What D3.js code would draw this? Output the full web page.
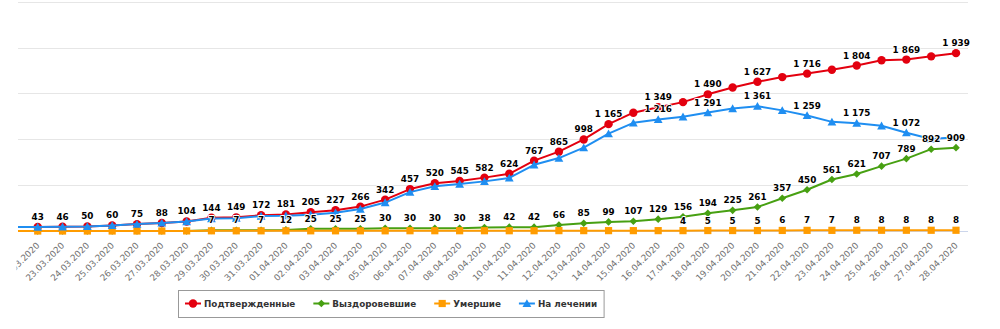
<!DOCTYPE html>
<html>
<head>
<meta charset="utf-8">
<script src="https://cdn.jsdelivr.net/npm/d3@7"></script>
<style>
  html, body { margin: 0; padding: 0; background: #fff; }
  svg { display: block; }
</style>
</head>
<body>
<svg id="chart" width="1000" height="329"></svg>
<script>
// ---------- data ----------
const dates = [
  "21.03.2020",
  "22.03.2020","23.03.2020","24.03.2020","25.03.2020","26.03.2020","27.03.2020","28.03.2020",
  "29.03.2020","30.03.2020","31.03.2020","01.04.2020","02.04.2020","03.04.2020","04.04.2020",
  "05.04.2020","06.04.2020","07.04.2020","08.04.2020","09.04.2020","10.04.2020","11.04.2020",
  "12.04.2020","13.04.2020","14.04.2020","15.04.2020","16.04.2020","17.04.2020","18.04.2020",
  "19.04.2020","20.04.2020","21.04.2020","22.04.2020","23.04.2020","24.04.2020","25.04.2020",
  "26.04.2020","27.04.2020","28.04.2020"
];
const confirmed = [43,43,46,50,60,75,88,104,144,149,172,181,205,227,266,342,457,520,545,582,624,767,865,998,1165,1290,1349,1405,1490,1565,1627,1678,1716,1758,1804,1862,1869,1904,1939];
const recovered = [0,0,0,0,0,0,0,0,7,7,7,12,25,25,25,30,30,30,30,38,42,42,66,85,99,107,129,156,194,225,261,357,450,561,621,707,789,892,909];
const deaths    = [0,0,0,0,0,0,0,1,2,2,2,2,2,2,2,2,3,3,3,3,3,3,4,4,4,4,4,4,5,5,5,6,7,7,8,8,8,8,8];
const active    = [43,43,46,50,60,75,88,103,135,140,163,167,178,200,239,310,424,487,512,541,579,722,795,909,1062,1179,1216,1245,1291,1335,1361,1315,1259,1190,1175,1147,1072,1004,1022];
const yTicks = [0,500,1000,1500,2000,2500];
const seriesNames = ["Подтвержденные","Выздоровевшие","Умершие","На лечении"];
// indices of points whose data label is shown (others hidden by overlap, as in the original)
const confirmedLabels = [1,2,3,4,5,6,7,8,9,10,11,12,13,14,15,16,17,18,19,20,21,22,23,24,26,28,30,32,34,36,38];
const recoveredLabels = [8,9,10,11,12,13,14,15,16,17,18,19,20,21,22,23,24,25,26,27,28,29,30,31,32,33,34,35,36,37,38];
const deathsLabels    = [27,28,29,30,31,32,33,34,35,36,37,38];
const activeLabels    = [26,28,30,32,34,36];

// ---------- styles ----------
const colors = ["#e3000f","#47a012","#ff9c00","#1f8ef1"];
const symbols = ["circle","diamond","square","triangle"];
const font = "'DejaVu Sans', Verdana, sans-serif";

const series = [
  {name: seriesNames[0], values: confirmed, labels: confirmedLabels},
  {name: seriesNames[1], values: recovered, labels: recoveredLabels},
  {name: seriesNames[2], values: deaths,    labels: deathsLabels},
  {name: seriesNames[3], values: active,    labels: activeLabels}
];

const svg = d3.select("#chart");
const plot = {left: 18, right: 968, top: 1.7, bottom: 231};

const x = d3.scalePoint().domain(dates).range([12.9, 956]);
const y = d3.scaleLinear().domain([0, 2500]).range([plot.bottom, plot.top]);

const defs = svg.append("defs");
defs.append("clipPath").attr("id","clip")
  .append("rect").attr("x", plot.left).attr("y", 0)
  .attr("width", plot.right - plot.left).attr("height", plot.bottom + 10);
defs.append("clipPath").attr("id","clipAxis")
  .append("rect").attr("x", 16.5).attr("y", 0).attr("width", 985).attr("height", 329);

// gridlines
svg.append("g").selectAll("line").data(yTicks).join("line")
  .attr("x1", plot.left).attr("x2", plot.right)
  .attr("y1", d => Math.round(y(d)) + 0.5).attr("y2", d => Math.round(y(d)) + 0.5)
  .attr("stroke", d => d === 0 ? "#ccd6eb" : "#e6e6e6").attr("stroke-width", 1);

// x axis labels
const xAxis = d3.axisBottom(x).tickSize(0).tickPadding(0);
const xg = svg.append("g").attr("clip-path", "url(#clipAxis)")
  .append("g").attr("transform", `translate(0,${plot.bottom})`).call(xAxis);
xg.select(".domain").remove();
xg.selectAll("text")
  .attr("font-family", font).attr("font-size", "8.8px").attr("fill", "#707070")
  .attr("text-anchor", "end")
  .attr("dy", null).attr("y", 0).attr("x", 0)
  .attr("transform", "translate(2,15) rotate(-45)");

function symbolPath(type) {
  if (type === "circle") return d3.symbol(d3.symbolCircle, Math.PI * 4.2 * 4.2)();
  if (type === "diamond") return "M0,-3.8L3.8,0L0,3.8L-3.8,0Z";
  if (type === "square") return "M-3.6,-3.6H3.6V3.6H-3.6Z";
  return "M0,-4.2L4.4,3.6L-4.4,3.6Z";
}

// lines and markers
const gSeries = svg.append("g").attr("clip-path", "url(#clip)");
series.forEach((s, si) => {
  const line = d3.line().x((d, i) => x(dates[i])).y(d => y(d));
  gSeries.append("path").datum(s.values)
    .attr("d", line).attr("fill", "none")
    .attr("stroke", colors[si]).attr("stroke-width", 2)
    .attr("stroke-linejoin", "round").attr("stroke-linecap", "round");
  gSeries.append("g").selectAll("path").data(s.values).join("path")
    .attr("transform", (d, i) => `translate(${x(dates[i])},${y(d)})`)
    .attr("d", symbolPath(symbols[si]))
    .attr("fill", colors[si]);
});

// data labels
const fmt = v => d3.format(",")(v).replace(/,/g, " ");
const gLabels = svg.append("g");
series.forEach((s, si) => {
  gLabels.append("g").selectAll("text").data(s.labels).join("text")
    .attr("x", i => x(dates[i]))
    .attr("y", i => y(s.values[i]) - 7)
    .attr("text-anchor", "middle")
    .attr("font-family", font).attr("font-size", "8.8px").attr("font-weight", "bold")
    .attr("fill", "#000")
    .attr("stroke", "#fff").attr("stroke-width", 1.8).attr("stroke-linejoin", "round")
    .attr("paint-order", "stroke")
    .text(i => fmt(s.values[i]));
});

// legend
const legend = svg.append("g");
const lgBox = legend.append("rect");
let lx = 185;
const ly = 303.5;
series.forEach((s, si) => {
  const it = legend.append("g");
  it.append("line").attr("x1", lx).attr("x2", lx + 16).attr("y1", ly).attr("y2", ly)
    .attr("stroke", colors[si]).attr("stroke-width", 2);
  it.append("path").attr("transform", `translate(${lx + 8},${ly})`)
    .attr("d", symbolPath(symbols[si])).attr("fill", colors[si]);
  const t = it.append("text").attr("x", lx + 19).attr("y", ly + 3.3)
    .attr("font-family", font).attr("font-size", "8.8px").attr("font-weight", "bold")
    .attr("fill", "#333").text(s.name);
  lx += 19 + t.node().getComputedTextLength() + 18;
});
const lgRight = lx - 18 + 7;
lgBox.attr("x", 178.5).attr("y", 290.5).attr("width", lgRight - 178.5).attr("height", 27)
  .attr("fill", "none").attr("stroke", "#999").attr("stroke-width", 1);
</script>
</body>
</html>
